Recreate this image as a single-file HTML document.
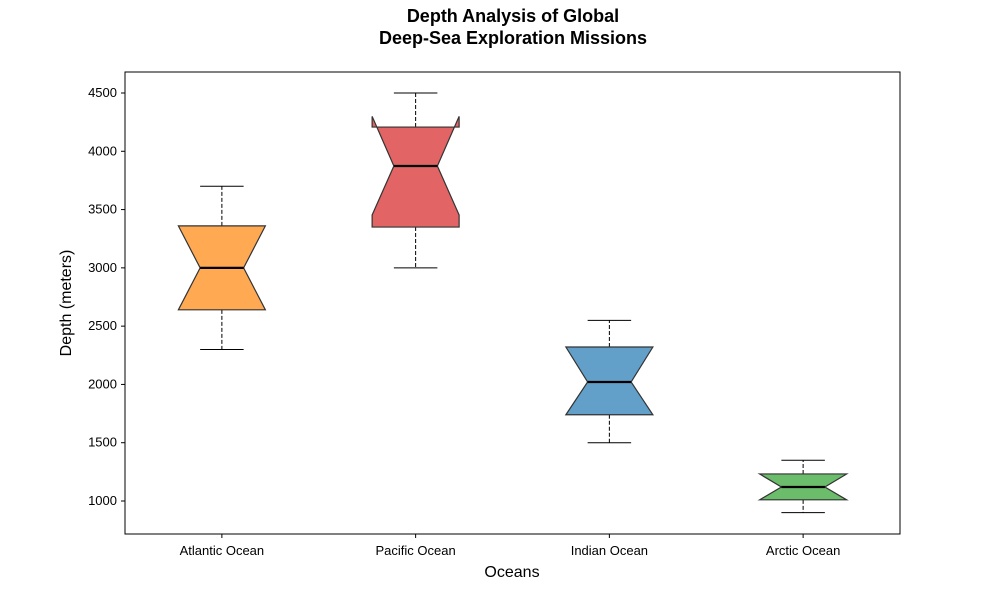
<!DOCTYPE html>
<html><head><meta charset="utf-8"><style>body{margin:0;background:#fff}svg{display:block;font-family:"Liberation Sans","DejaVu Sans",sans-serif}</style></head>
<body>
<svg id="chart" width="1000" height="600">
<text x="513" y="22" text-anchor="middle" font-size="18" font-weight="bold"><tspan x="513">Depth Analysis of Global</tspan><tspan x="513" dy="22">Deep-Sea Exploration Missions</tspan></text>
<g id="plot"></g>
<text x="512" y="577" text-anchor="middle" font-size="16">Oceans</text>
<text transform="translate(71,303) rotate(-90)" text-anchor="middle" font-size="16">Depth (meters)</text>
</svg>
<script>
const categories=["Atlantic Ocean","Pacific Ocean","Indian Ocean","Arctic Ocean"];
const whiskerLow=[2300,3000,1500,900];
const q1=[2640,3350,1740,1010];
const medians=[3000,3874,2021,1120];
const q3=[3360,4208,2321,1232];
const whiskerHigh=[3700,4500,2550,1350];
const notchLow=[2640,3453,1740,1010];
const notchHigh=[3360,4300,2321,1232];
const yTicks=[1000,1500,2000,2500,3000,3500,4000,4500];
const colors=["rgba(255,140,26,0.75)","rgba(217,48,48,0.75)","rgba(31,119,180,0.7)","rgba(44,160,44,0.7)"];
const L=125,R=900,T=72,B=534;
const y=v=>501-(v-1000)*408/3500;
const x=i=>L+(i+0.5)*(R-L)/categories.length;
const NS="http://www.w3.org/2000/svg";
const g=document.getElementById('plot');
function mk(t,a){const e=document.createElementNS(NS,t);for(const k in a)e.setAttribute(k,a[k]);g.appendChild(e);return e;}
const frame=mk('rect',{x:L,y:T,width:R-L,height:B-T,fill:'none',stroke:'#000','stroke-width':1});


yTicks.forEach(v=>{
 const t=mk('line',{x1:L-4,x2:L,y1:y(v),y2:y(v),stroke:'#000'});
 
 
 const l=mk('text',{x:L-8,y:y(v)+4,'text-anchor':'end','font-size':13});
 l.textContent=v;
 
 
});
categories.forEach((c,i)=>{
 const cx=x(i),hw=43.5,nw=21.75;
 const w1=mk('line',{x1:cx,x2:cx,y1:y(q1[i]),y2:y(whiskerLow[i]),stroke:'#000','stroke-dasharray':'4,2'});
 
 
 const w2=mk('line',{x1:cx,x2:cx,y1:y(q3[i]),y2:y(whiskerHigh[i]),stroke:'#000','stroke-dasharray':'4,2'});
 
 
 [whiskerLow[i],whiskerHigh[i]].forEach(v=>{
  const cap=mk('line',{x1:cx-21.75,x2:cx+21.75,y1:y(v),y2:y(v),stroke:'#000'});
  
  
 });
 const pts=[[cx-hw,q1[i]],[cx-hw,notchLow[i]],[cx-nw,medians[i]],[cx-hw,notchHigh[i]],[cx-hw,q3[i]],[cx+hw,q3[i]],[cx+hw,notchHigh[i]],[cx+nw,medians[i]],[cx+hw,notchLow[i]],[cx+hw,q1[i]]];
 const box=mk('polygon',{points:pts.map(p=>p[0]+','+y(p[1])).join(' '),fill:colors[i],stroke:'#333','stroke-width':1.2});
 
 
 const m=mk('line',{x1:cx-nw,x2:cx+nw,y1:y(medians[i]),y2:y(medians[i]),stroke:'#000','stroke-width':2.2});
 
 
 const t=mk('line',{x1:cx,x2:cx,y1:B,y2:B+4,stroke:'#000'});
 
 
 const l=mk('text',{x:cx,y:B+21,'text-anchor':'middle','font-size':13});
 l.textContent=c;
 
 
});
</script>
</body></html>
